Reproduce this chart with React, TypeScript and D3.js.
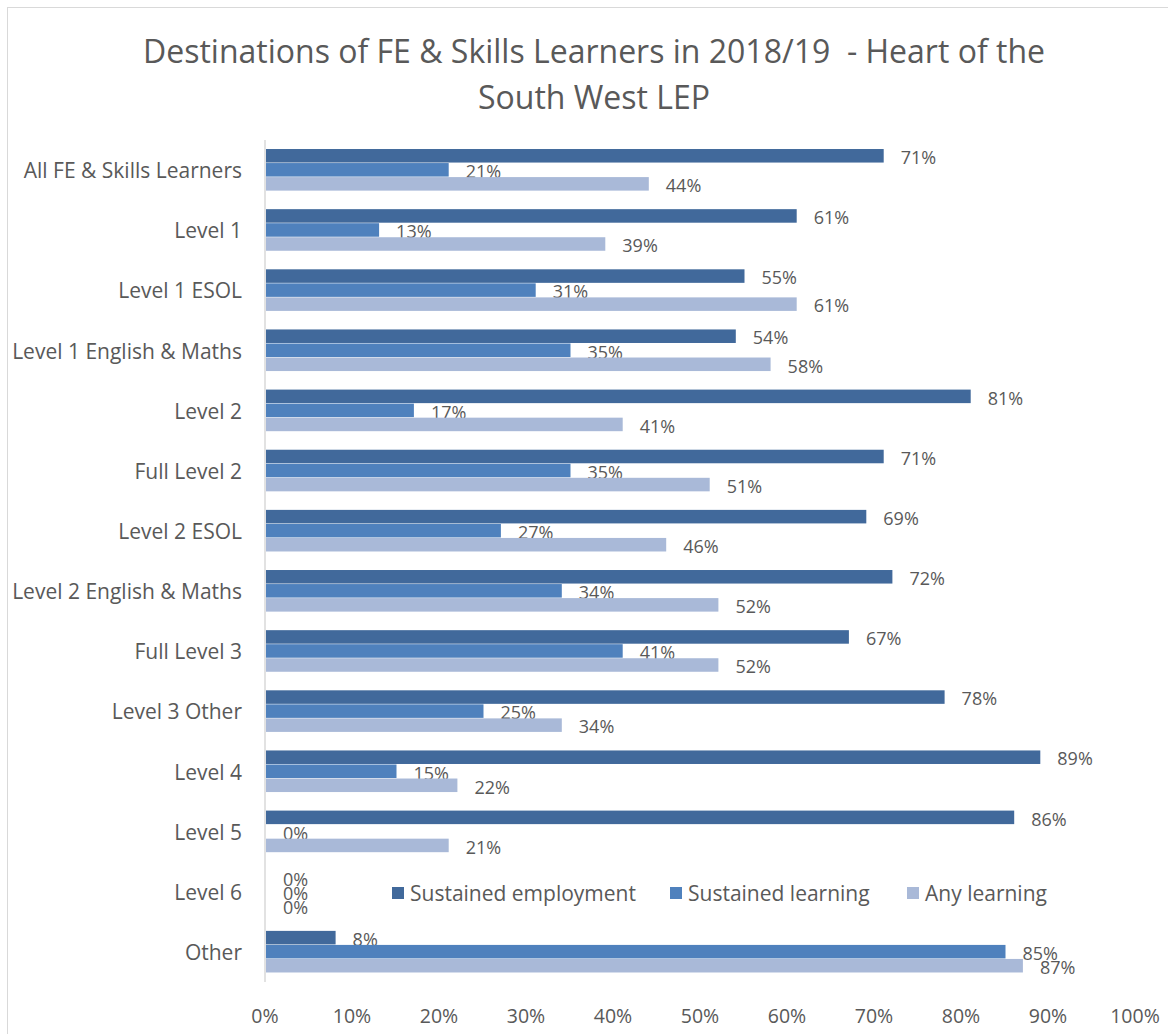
import React, { useEffect, useRef } from "react";
import * as d3 from "d3";

const categories = [
  "All FE & Skills Learners",
  "Level 1",
  "Level 1 ESOL",
  "Level 1 English & Maths",
  "Level 2",
  "Full Level 2",
  "Level 2 ESOL",
  "Level 2 English & Maths",
  "Full Level 3",
  "Level 3 Other",
  "Level 4",
  "Level 5",
  "Level 6",
  "Other",
];

const seriesNames = ["Sustained employment", "Sustained learning", "Any learning"];
const seriesColors = ["#41699b", "#4f81bd", "#a9b9d8"];

const sustainedEmployment = [0.71, 0.61, 0.55, 0.54, 0.81, 0.71, 0.69, 0.72, 0.67, 0.78, 0.89, 0.86, 0, 0.08];
const sustainedLearning = [0.21, 0.13, 0.31, 0.35, 0.17, 0.35, 0.27, 0.34, 0.41, 0.25, 0.15, 0, 0, 0.85];
const anyLearning = [0.44, 0.39, 0.61, 0.58, 0.41, 0.51, 0.46, 0.52, 0.52, 0.34, 0.22, 0.21, 0, 0.87];

const xTicks = [0, 0.1, 0.2, 0.3, 0.4, 0.5, 0.6, 0.7, 0.8, 0.9, 1];

const titleLines = ["Destinations of FE & Skills Learners in 2018/19  - Heart of the", "South West LEP"];

const WIDTH = 1168;
const HEIGHT = 1034;
const FONT = "'Open Sans', Lato, sans-serif";
const TEXT = "#595959";

export default function App() {
  const svgRef = useRef<SVGSVGElement | null>(null);

  useEffect(() => {
    if (!svgRef.current) return;
    const svg = d3.select(svgRef.current);
    svg.selectAll("*").remove();

    const margin = { top: 140, right: 33, bottom: 52, left: 265 };
    const innerWidth = WIDTH - margin.left - margin.right;

    const x = d3.scaleLinear().domain([0, 1]).range([margin.left, margin.left + innerWidth]);
    const y = d3.scaleBand().domain(categories).range([margin.top, HEIGHT - margin.bottom]).paddingInner(0.3).paddingOuter(0.15);
    const ySub = d3.scaleBand().domain(seriesNames).range([0, y.bandwidth()]);

    // chart border
    svg.append("rect")
      .attr("x", 7.5).attr("y", 7.5)
      .attr("width", WIDTH + 10).attr("height", HEIGHT + 10)
      .attr("fill", "white").attr("stroke", "#d9d9d9");

    // title
    svg.append("g").selectAll("text").data(titleLines).join("text")
      .attr("x", 594).attr("y", (_, i) => 63 + i * 46)
      .attr("text-anchor", "middle")
      .attr("font-family", FONT).attr("font-size", 32).attr("fill", TEXT)
      .style("white-space", "pre")
      .text(d => d);

    const series = [sustainedEmployment, sustainedLearning, anyLearning];

    series.forEach((vals, s) => {
      const g = svg.append("g");
      g.selectAll("rect").data(vals).join("rect")
        .attr("x", x(0) + 1)
        .attr("y", (_, i) => y(categories[i])! + ySub(seriesNames[s])!)
        .attr("width", d => Math.max(0, x(d) - x(0)))
        .attr("height", ySub.bandwidth() - 0.5)
        .attr("fill", seriesColors[s]);
      g.selectAll("text").data(vals).join("text")
        .attr("x", d => x(d) + 18)
        .attr("y", (_, i) => y(categories[i])! + ySub(seriesNames[s])! + ySub.bandwidth() / 2 + 1)
        .attr("dominant-baseline", "central")
        .attr("font-family", FONT).attr("font-size", 18).attr("fill", TEXT)
        .text(d => d3.format(".0%")(d));
    });

    // left axis line
    svg.append("line")
      .attr("x1", x(0)).attr("x2", x(0))
      .attr("y1", margin.top).attr("y2", HEIGHT - margin.bottom)
      .attr("stroke", "#d9d9d9").attr("stroke-width", 1.5);

    // category labels
    svg.append("g").selectAll("text").data(categories).join("text")
      .attr("x", 242)
      .attr("y", d => y(d)! + y.bandwidth() / 2)
      .attr("text-anchor", "end").attr("dominant-baseline", "central")
      .attr("font-family", FONT).attr("font-size", 21).attr("fill", TEXT)
      .text(d => d);

    // x tick labels
    svg.append("g").selectAll("text").data(xTicks).join("text")
      .attr("x", d => x(d)).attr("y", 1015)
      .attr("text-anchor", "middle").attr("dominant-baseline", "central")
      .attr("font-family", FONT).attr("font-size", 19.5).attr("fill", TEXT)
      .text(d => d3.format(".0%")(d));

    // legend
    const legendX = [392, 670, 907];
    const legend = svg.append("g").selectAll("g").data(seriesNames).join("g")
      .attr("transform", (_, i) => `translate(${legendX[i]},893)`);
    legend.append("rect").attr("x", 0).attr("y", -6).attr("width", 12).attr("height", 12)
      .attr("fill", (_, i) => seriesColors[i]);
    legend.append("text").attr("x", 18).attr("y", 0)
      .attr("dominant-baseline", "central")
      .attr("font-family", FONT).attr("font-size", 21).attr("fill", TEXT)
      .text(d => d);
  }, []);

  return (
    <div style={{ position: "absolute", left: 0, top: 0 }}>
      <svg ref={svgRef} width={WIDTH} height={HEIGHT} style={{ display: "block" }}></svg>
    </div>
  );
}
